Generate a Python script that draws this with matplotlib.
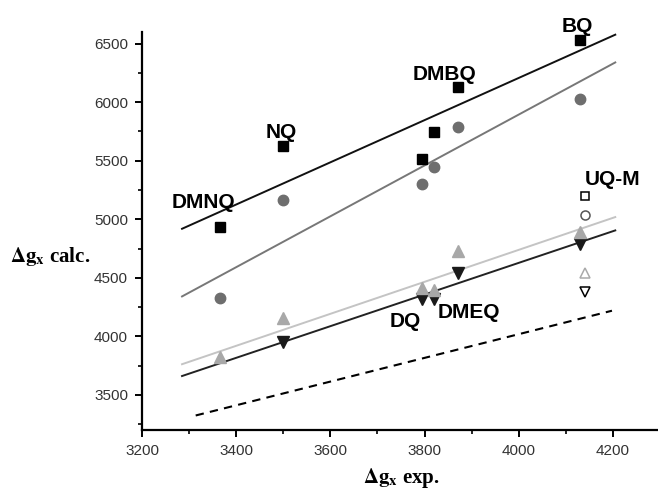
import matplotlib
matplotlib.use("Agg")
import matplotlib.pyplot as plt
from matplotlib.ticker import MultipleLocator

plt.rcParams['font.family'] = 'Liberation Sans'
plt.rcParams['mathtext.fontset'] = 'stix'

# experimental dg_x for each quinone
x_exp = [3365, 3500, 3795, 3820, 3870, 4130]
# calculated values, one list per method (None = not shown)
sq = [4931, 5628, 5511, 5748, 6129, 6528]
circ = [4324, 5162, 5305, 5448, 5786, 6026]
tri_up = [3824, 4153, 4410, 4396, 4727, 4890]
tri_dn = [None, 3953, 4319, 4319, 4539, 4785]

# UQ-M (open symbols)
x_uqm = [4140]
sq_uqm = [5196]
circ_uqm = [5033]
up_uqm = [4542]
dn_uqm = [4382]

# fitted lines (end points)
fit_x = [3285, 4205]
fit_sq = [4919, 6577]
fit_circ = [4341, 6340]
fit_up = [3762, 5019]
fit_dn = [3661, 4905]
ideal_x = [3314, 4198]
ideal_y = [3324, 4219]

labels = ['DMNQ', 'NQ', 'DQ', 'DMEQ', 'DMBQ', 'BQ']
lab_pos = [(3330, 5140), (3495, 5745), (3760, 4130), (3895, 4200), (3842, 6240), (4125, 6650)]

fig = plt.figure(figsize=(6.58, 4.9), dpi=100)
ax = fig.add_axes([142/658, 60/490, 518/658, 398/490])

ax.plot(fit_x, fit_sq, color='#111111', lw=1.4)
ax.plot(fit_x, fit_circ, color='#777777', lw=1.4)
ax.plot(fit_x, fit_up, color='#c4c4c4', lw=1.4)
ax.plot(fit_x, fit_dn, color='#222222', lw=1.4)
ax.plot(ideal_x, ideal_y, color='black', lw=1.5, ls=(0, (4, 3)))

x_dn = [x for x, v in zip(x_exp, tri_dn) if v is not None]
y_dn = [v for v in tri_dn if v is not None]
ax.plot(x_dn, y_dn, 'v', color='#1a1a1a', ms=8, ls='none')
ax.plot(x_exp, tri_up, '^', color='#a8a8a8', ms=8, ls='none')
ax.plot(x_exp, circ, 'o', color='#6e6e6e', ms=7.5, ls='none')
ax.plot(x_exp, sq, 's', color='black', ms=6.5, ls='none')

ax.plot(x_uqm, sq_uqm, 's', mfc='white', mec='black', mew=1.1, ms=6, ls='none')
ax.plot(x_uqm, circ_uqm, 'o', mfc='white', mec='#555555', mew=1.1, ms=6.5, ls='none')
ax.plot(x_uqm, up_uqm, '^', mfc='white', mec='#aaaaaa', mew=1.1, ms=7, ls='none')
ax.plot(x_uqm, dn_uqm, 'v', mfc='white', mec='black', mew=1.1, ms=7, ls='none')

for lab, (lx, ly) in zip(labels, lab_pos):
    ax.text(lx, ly, lab, fontsize=15, fontweight='bold', ha='center', va='center')
ax.text(4200, 5340, 'UQ-M', fontsize=15, fontweight='bold', ha='center', va='center')

ax.set_xlim(3200, 4300)
ax.set_ylim(3200, 6600)
ax.xaxis.set_major_locator(MultipleLocator(200))
ax.xaxis.set_minor_locator(MultipleLocator(100))
ax.yaxis.set_major_locator(MultipleLocator(500))
ax.yaxis.set_minor_locator(MultipleLocator(250))
ax.tick_params(which='major', direction='out', length=5, width=1.4, labelsize=11, labelcolor='#333333', pad=5)
ax.tick_params(which='minor', direction='out', length=3, width=1.2)
ax.spines['top'].set_visible(False)
ax.spines['right'].set_visible(False)
ax.spines['left'].set_linewidth(1.6)
ax.spines['bottom'].set_linewidth(1.6)

ax.set_xlabel(r'$\mathbf{\Delta g}_\mathbf{x}$ exp.', fontsize=15, family='Liberation Serif',
              fontweight='bold', labelpad=6)
fig.text(10/658, 1 - 257/490, r'$\mathbf{\Delta g}_\mathbf{x}$ calc.', fontsize=15,
         family='Liberation Serif', fontweight='bold', ha='left', va='center')

fig.savefig('out.png', dpi=100)
